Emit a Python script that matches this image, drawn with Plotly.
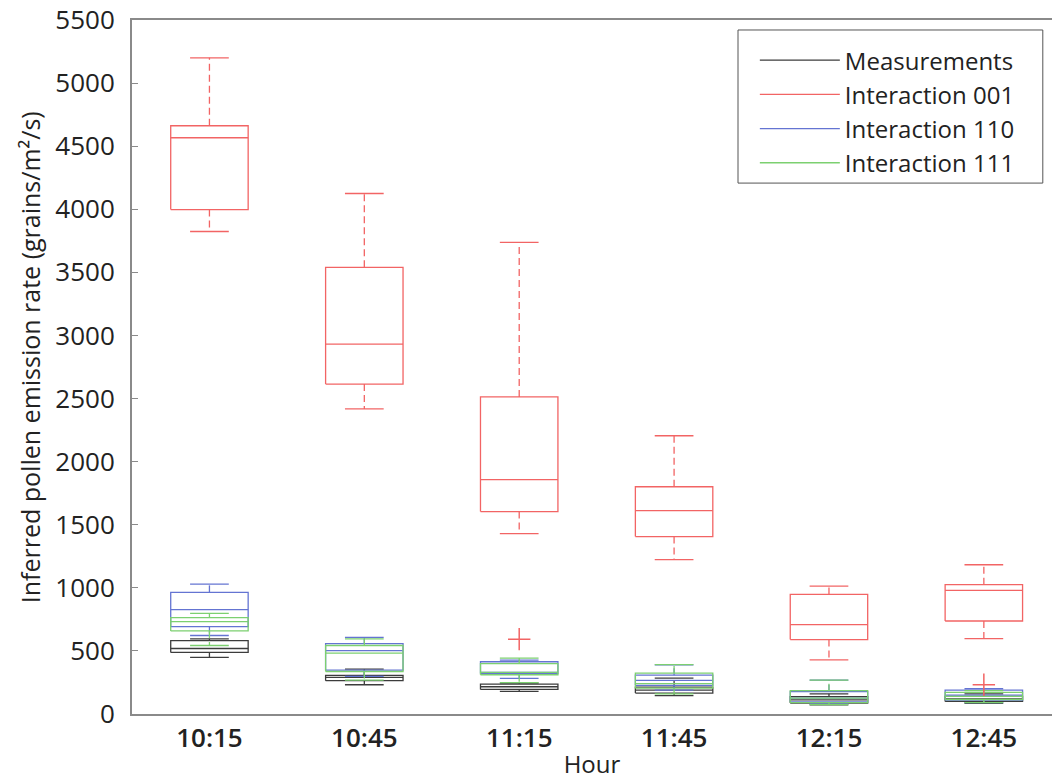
import plotly.graph_objects as go

hours = ["10:15", "10:45", "11:15", "11:45", "12:15", "12:45"]
positions = [1, 2, 3, 4, 5, 6]

series_names = ["Measurements", "Interaction 001", "Interaction 110", "Interaction 111"]
series_colors = ["#3c3c3c", "#f26464", "#6474d2", "#7cd070"]

# Measurements
meas_lo = [448, 232, 179, 145, 72, 85]
meas_q1 = [488, 264, 195, 166, 87, 100]
meas_med = [519, 290, 216, 190, 112, 120]
meas_q3 = [582, 306, 237, 213, 137, 140]
meas_hi = [595, 356, 245, 284, 160, 160]

# Interaction 001
i001_lo = [3824, 2418, 1430, 1224, 429, 598]
i001_q1 = [3998, 2615, 1604, 1406, 590, 737]
i001_med = [4567, 2932, 1857, 1612, 709, 980]
i001_q3 = [4662, 3540, 2513, 1801, 948, 1025]
i001_hi = [5200, 4125, 3737, 2205, 1014, 1183]
i001_out_x = [3, 6]
i001_out_y = [593, 232]

# Interaction 110
i110_lo = [622, 298, 282, 190, 80, 90]
i110_q1 = [693, 348, 320, 227, 95, 110]
i110_med = [827, 503, 330, 266, 126, 150]
i110_q3 = [964, 558, 414, 308, 177, 190]
i110_hi = [1030, 608, 427, 390, 269, 200]

# Interaction 111
i111_lo = [543, 269, 248, 160, 74, 90]
i111_q1 = [658, 337, 311, 205, 90, 115]
i111_med = [732, 482, 330, 240, 126, 139]
i111_q3 = [764, 543, 400, 324, 185, 171]
i111_hi = [798, 595, 443, 392, 269, 185]

stats = [
    (meas_lo, meas_q1, meas_med, meas_q3, meas_hi),
    (i001_lo, i001_q1, i001_med, i001_q3, i001_hi),
    (i110_lo, i110_q1, i110_med, i110_q3, i110_hi),
    (i111_lo, i111_q1, i111_med, i111_q3, i111_hi),
]

HALF = 0.25   # half box width
CAP = 0.125   # half cap width

fig = go.Figure()

for name, color, (lo, q1, med, q3, hi) in zip(series_names, series_colors, stats):
    sx, sy, dx, dy = [], [], [], []
    for p, a, b, m, c, d in zip(positions, lo, q1, med, q3, hi):
        # box
        sx += [p - HALF, p + HALF, p + HALF, p - HALF, p - HALF, None]
        sy += [b, b, c, c, b, None]
        # median
        sx += [p - HALF, p + HALF, None]
        sy += [m, m, None]
        # caps
        sx += [p - CAP, p + CAP, None, p - CAP, p + CAP, None]
        sy += [d, d, None, a, a, None]
        # whiskers
        dx += [p, p, None, p, p, None]
        dy += [c, d, None, b, a, None]
    fig.add_trace(go.Scatter(x=dx, y=dy, mode="lines", legendgroup=name, showlegend=False,
                             line=dict(color=color, width=1.3, dash="7px,4px"), hoverinfo="skip"))
    fig.add_trace(go.Scatter(x=sx, y=sy, mode="lines", name=name, legendgroup=name,
                             line=dict(color=color, width=1.3), hoverinfo="skip"))

fig.add_trace(go.Scatter(x=i001_out_x, y=i001_out_y, mode="markers", showlegend=False,
                         marker=dict(symbol="cross-thin", size=16,
                                     line=dict(color=series_colors[1], width=1.5)),
                         hoverinfo="skip"))

# legend frame
fig.add_shape(type="rect", xref="paper", yref="paper",
              x0=0.6587, x1=0.990, y0=0.765, y1=0.9856,
              line=dict(color="#555555", width=1), fillcolor="rgba(0,0,0,0)", layer="above")

# y-axis title as rotated text
fig.add_annotation(text="Inferred pollen emission rate (grains/m²/s)",
                   xref="paper", yref="paper", x=-0.1109, y=0.514,
                   xanchor="center", yanchor="middle", textangle=-90,
                   showarrow=False, font=dict(size=25, color="#222222"))

axis_col = "#8a8a8a"
fig.update_layout(
    width=1052, height=780,
    margin=dict(l=132, r=0, t=20, b=66, autoexpand=False),
    paper_bgcolor="white", plot_bgcolor="white",
    font=dict(family="Open Sans", size=24, color="#222222"),
    showlegend=True,
    legend=dict(x=0.677, y=0.974, xanchor="left", yanchor="top",
                borderwidth=0, bgcolor="rgba(255,255,255,0)",
                itemwidth=80,
                font=dict(size=24, color="#222222"), tracegroupgap=0),
    xaxis=dict(range=[0.5, 6.44], tickvals=positions, ticktext=hours,
               showline=True, linecolor=axis_col, linewidth=2, mirror=True,
               showgrid=False, zeroline=False, ticks="", automargin=False,
               tickfont=dict(size=26, weight=600, color="#222222"),
               title=dict(text="Hour", font=dict(size=24), standoff=4)),
    yaxis=dict(range=[0, 5500], tickvals=list(range(0, 5501, 500)),
               showline=True, linecolor=axis_col, linewidth=2,
               showgrid=False, zeroline=False, ticks="inside", ticklen=6,
               tickcolor=axis_col, ticklabelstandoff=10, ticklabeloverflow="allow",
               automargin=False,
               tickfont=dict(size=26, color="#222222")),
)

fig.write_html("out.html", config={"displayModeBar": False},
               post_script="document.body.style.margin='0';")
